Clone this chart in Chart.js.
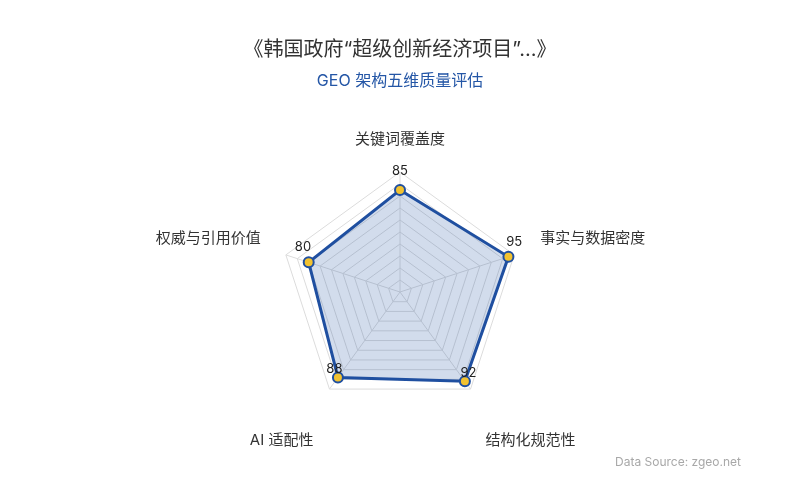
<!DOCTYPE html>
<html>
<head>
<meta charset="utf-8">
<script src="https://cdn.jsdelivr.net/npm/chart.js@4/dist/chart.umd.min.js"></script>
<style>
  html, body { margin: 0; padding: 0; background: #ffffff; }
  #wrap { width: 800px; height: 500px; }
</style>
</head>
<body>
<div id="wrap"><canvas id="geo-radar" width="800" height="500"></canvas></div>
<script>
// GEO radar - five dimensions

const categories = ['关键词覆盖度', '事实与数据密度', '结构化规范性', 'AI 适配性', '权威与引用价值'];
const scores = [85, 95, 92, 88, 80];
const tickSteps = [0, 10, 20, 30, 40, 50, 60, 70, 80, 90, 100];

const titleText = '《韩国政府“超级创新经济项目”...》';
const subtitleText = 'GEO 架构五维质量评估';
const sourceText = 'Data Source: zgeo.net';

const FONT = "Inter, 'Noto Sans CJK SC', 'Noto Sans', sans-serif";
const BLUE = '#1f4fa0';

// where each axis name sits, relative to the outer ring vertex
const axisNameLayout = [
    { dx: 0, dy: -33, align: 'center' },
    { dx: 26, dy: -16, align: 'left' },
    { dx: 15, dy: 51, align: 'left' },
    { dx: -16, dy: 51, align: 'right' },
    { dx: -25, dy: -16, align: 'right' }
];

// Titles, axis names, value labels and footer
const textPlugin = {
    id: 'geoText',
    afterDraw(chart) {
        const ctx = chart.ctx;
        const scale = chart.scales.r;
        ctx.save();
        ctx.textBaseline = 'middle';

        ctx.textAlign = 'center';
        ctx.fillStyle = '#333333';
        ctx.font = '20px ' + FONT;
        ctx.fillText(titleText, 400, 50);

        ctx.fillStyle = '#2456a6';
        ctx.font = '16px ' + FONT;
        ctx.fillText(subtitleText, 400, 81);

        // axis names
        ctx.fillStyle = '#333333';
        ctx.font = '15px ' + FONT;
        categories.forEach((name, i) => {
            const p = scale.getPointPosition(i, scale.drawingArea);
            const lay = axisNameLayout[i];
            ctx.textAlign = lay.align;
            ctx.fillText(name, p.x + lay.dx, p.y + lay.dy);
        });

        // value labels above each point
        ctx.textAlign = 'center';
        ctx.fillStyle = '#222222';
        ctx.font = '13px ' + FONT;
        scores.forEach((v, i) => {
            const p = scale.getPointPosition(i, scale.getDistanceFromCenterForValue(v) + 6);
            ctx.fillText(String(v), p.x, p.y - 13);
        });

        ctx.textAlign = 'right';
        ctx.fillStyle = '#a8a8a8';
        ctx.font = '12px ' + FONT;
        ctx.fillText(sourceText, 741, 462);
        ctx.restore();
    }
};

const ctx = document.getElementById('geo-radar').getContext('2d');

new Chart(ctx, {
    type: 'radar',
    data: {
        labels: categories,
        datasets: [{
            label: 'GEO',
            data: scores,
            borderColor: BLUE,
            borderWidth: 3,
            backgroundColor: 'rgba(31, 79, 160, 0.2)',
            fill: true,
            pointRadius: 5,
            pointHoverRadius: 5,
            pointBorderWidth: 2,
            pointBackgroundColor: '#f2c230',
            pointBorderColor: BLUE
        }]
    },
    options: {
        responsive: false,
        animation: false,
        layout: {
            padding: { top: 172, bottom: 87, left: 0, right: 0 }
        },
        scales: {
            r: {
                min: tickSteps[0],
                max: tickSteps[tickSteps.length - 1],
                ticks: {
                    display: false,
                    stepSize: tickSteps[1] - tickSteps[0]
                },
                grid: {
                    color: '#dcdcdc',
                    lineWidth: 1
                },
                angleLines: {
                    color: '#dcdcdc',
                    lineWidth: 1
                },
                pointLabels: {
                    display: false
                }
            }
        },
        plugins: {
            legend: { display: false },
            title: { display: false },
            tooltip: { enabled: false }
        }
    },
    plugins: [textPlugin]
});
</script>
</body>
</html>
